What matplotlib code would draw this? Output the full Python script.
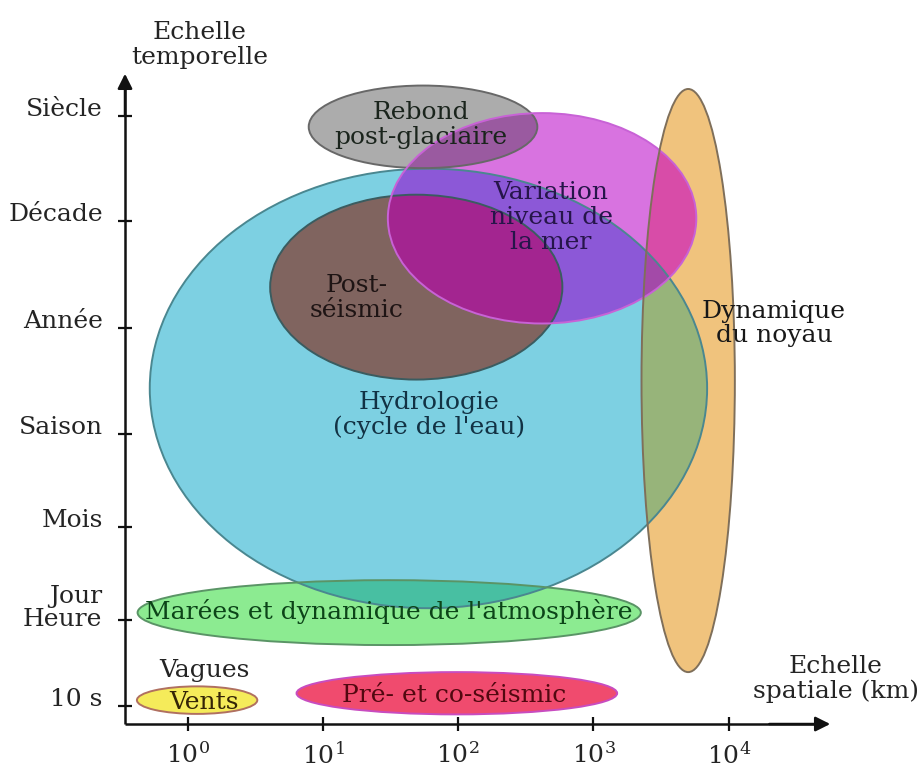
import itertools
import numpy as np
import matplotlib
matplotlib.use("Agg")
import matplotlib.pyplot as plt
from matplotlib.patches import Ellipse

plt.rcParams['font.family'] = 'DejaVu Serif'
plt.rcParams['mathtext.fontset'] = 'dejavuserif'

# phenomena: spatial extent in log10(km), temporal extent in scale levels
phenomena = ['Hydrologie', 'Post-séismic', 'Rebond', 'Variation',
             'Noyau', 'Marées', 'Vents', 'Pré-co']
space_center = [1.78, 1.69, 1.74, 2.62, 3.70, 1.49, 0.07, 1.99]
space_span = [4.12, 2.16, 1.69, 2.28, 0.69, 3.72, 0.89, 2.37]
time_center = [3.23, 4.26, 5.89, 4.96, 3.31, 0.95, 0.06, 0.13]
time_span = [4.47, 1.88, 0.84, 2.14, 5.93, 0.66, 0.28, 0.43]

# temporal scale (schematic, not evenly spaced)
time_levels = [0, 0.875, 1.82, 2.77, 3.84, 4.93, 6.0]
time_labels = ['10 s', 'Jour\nHeure', 'Mois', 'Saison', 'Année', 'Décade', 'Siècle']
space_ticks = [0, 1, 2, 3, 4]
space_labels = [r'$10^{%d}$' % k for k in space_ticks]

# styles
fill = {'Hydrologie': '#7dd0e2', 'Post-séismic': '#80645f', 'Rebond': '#acacac',
        'Variation': '#d873e0', 'Noyau': '#f0c37d', 'Marées': '#8ceb91',
        'Vents': '#f5eb5a', 'Pré-co': '#f04b6e'}
edge = {'Hydrologie': '#4a8790', 'Post-séismic': '#3a5c60', 'Rebond': '#686868',
        'Variation': '#c862d6', 'Noyau': '#7f6f5a', 'Marées': '#5a9466',
        'Vents': '#b07060', 'Pré-co': '#c84cc0'}
overlap = {
    ('Hydrologie', 'Post-séismic'): '#80645f',
    ('Hydrologie', 'Variation'): '#8c58d7',
    ('Hydrologie', 'Post-séismic', 'Variation'): '#a32590',
    ('Rebond', 'Variation'): '#9a5aa0',
    ('Hydrologie', 'Noyau'): '#97b47a',
    ('Variation', 'Noyau'): '#d84ca8',
    ('Hydrologie', 'Variation', 'Noyau'): '#a34aa8',
    ('Hydrologie', 'Marées'): '#48bfa2',
}

# x_axis / y_axis: where the two arrows cross
x_axis, y_axis = -0.463, -0.183

labels = [
    ('Rebond\npost-glaciaire', 1.725, 5.91, '#1a241c'),
    ('Variation\nniveau de\nla mer', 2.686, 4.97, '#26154a'),
    ('Post-\nséismic', 1.252, 4.15, '#1e1414'),
    ('Hydrologie\n(cycle de l\'eau)', 1.784, 2.96, '#123244'),
    ('Dynamique\ndu noyau', 4.334, 3.89, '#181818'),
    ('Marées et dynamique de l\'atmosphère', 1.489, 0.966, '#0c4418'),
    ('Vagues', 0.123, 0.366, '#242424'),
    ('Vents', 0.123, 0.041, '#342406'),
    ('Pré- et co-séismic', 1.969, 0.112, '#520810'),
    ('Echelle\nspatiale (km)', 4.792, 0.275, '#242424'),
    ('Echelle\ntemporelle', 0.086, 6.72, '#242424'),
]


def ellipse_poly(xc, yc, w, h, n=200):
    t = np.linspace(0, 2 * np.pi, n, endpoint=False)
    return np.column_stack([xc + w / 2 * np.cos(t), yc + h / 2 * np.sin(t)])


def clip_convex(subject, clipper):
    # Sutherland-Hodgman, both polygons convex and counter-clockwise
    out = subject
    for i in range(len(clipper)):
        if len(out) == 0:
            break
        a, b = clipper[i], clipper[(i + 1) % len(clipper)]
        d = (b[0] - a[0]) * (out[:, 1] - a[1]) - (b[1] - a[1]) * (out[:, 0] - a[0])
        prev = np.roll(out, 1, axis=0)
        dprev = np.roll(d, 1)
        pts = []
        for p, q, dp, dq in zip(prev, out, dprev, d):
            if dq >= 0:
                if dp < 0:
                    pts.append(p + dp / (dp - dq) * (q - p))
                pts.append(q)
            elif dp >= 0:
                pts.append(p + dp / (dp - dq) * (q - p))
        out = np.array(pts) if pts else np.empty((0, 2))
    return out


def mix(names):
    key = tuple(n for n in phenomena if n in names)
    if key in overlap:
        return overlap[key]
    rgb = np.ones(3)
    for n in names:
        rgb *= np.array(matplotlib.colors.to_rgb(fill[n]))
    return rgb


fig = plt.figure(figsize=(9.21, 7.67), dpi=100)
ax = fig.add_axes([0, 0, 1, 1])
ax.set_xlim(-1.387, 5.421)
ax.set_ylim(-0.620, 7.180)

polys = {(i,): ellipse_poly(space_center[i], time_center[i], space_span[i], time_span[i])
         for i in range(len(phenomena))}
for size in range(2, len(phenomena) + 1):
    for combo in itertools.combinations(range(len(phenomena)), size):
        parent = polys.get(combo[:-1])
        if parent is None or len(parent) < 3:
            continue
        inter = clip_convex(parent, polys[(combo[-1],)])
        if len(inter) >= 3:
            polys[combo] = inter

for combo in sorted(polys, key=len):
    poly = polys[combo]
    ax.fill(poly[:, 0], poly[:, 1], color=mix([phenomena[i] for i in combo]),
            lw=0, zorder=2 + len(combo))

for i, name in enumerate(phenomena):
    ax.add_patch(Ellipse((space_center[i], time_center[i]), space_span[i], time_span[i],
                         fill=False, ec=edge[name], lw=1.4, zorder=15))

for text, x, y, c in labels:
    ax.text(x, y, text, ha='center', va='center', fontsize=18, color=c,
            linespacing=1.1, zorder=20)

# axes drawn as arrows
ax.spines[['top', 'right']].set_visible(False)
ax.spines['left'].set_position(('data', x_axis))
ax.spines['bottom'].set_position(('data', y_axis))
ax.spines['left'].set_bounds(y_axis, 6.3)
ax.spines['bottom'].set_bounds(x_axis, 4.65)
for s in ['left', 'bottom']:
    ax.spines[s].set_linewidth(1.8)
    ax.spines[s].set_color('#111111')
    ax.spines[s].set_capstyle('butt')
ax.annotate('', xy=(x_axis, 6.43), xytext=(x_axis, 6.0),
            arrowprops=dict(arrowstyle='-|>', color='#111111', lw=1.8,
                            mutation_scale=22, shrinkA=0, shrinkB=0))
ax.annotate('', xy=(4.75, y_axis), xytext=(4.3, y_axis),
            arrowprops=dict(arrowstyle='-|>', color='#111111', lw=1.8,
                            mutation_scale=22, shrinkA=0, shrinkB=0))

# two-line tick label is placed separately so that it sits like the reference
ax.set_xticks(space_ticks, space_labels)
ax.set_yticks(time_levels, [t if '\n' not in t else '' for t in time_labels])
ax.tick_params(direction='inout', length=10, width=1.6, labelsize=18,
               colors='#111111', labelcolor='#242424')
ax.tick_params(axis='x', pad=8)
ax.tick_params(axis='y', pad=11)
for lab in ax.get_yticklabels():
    lab.set_va('baseline')
for lvl, t in zip(time_levels, time_labels):
    if '\n' in t:
        ax.annotate(t, xy=(x_axis, lvl), xytext=(-23, 12), textcoords='offset pixels',
                    ha='right', va='center', multialignment='right', fontsize=18,
                    color='#242424', linespacing=1.05)

fig.savefig('out.png', dpi=100)
